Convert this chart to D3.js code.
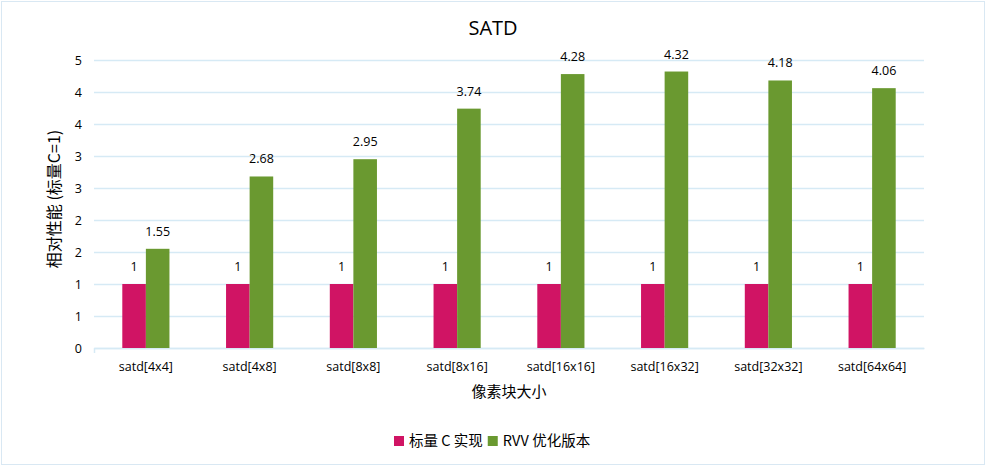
<!DOCTYPE html>
<html>
<head>
<meta charset="utf-8">
<script src="https://cdn.jsdelivr.net/npm/d3@7"></script>
<style>
  body { margin: 0; background: #fff; }
  svg text { font-family: "Open Sans", "Noto Sans CJK SC", sans-serif; fill: #000; }
  .cjk { font-family: "Noto Sans CJK SC", sans-serif; }
</style>
</head>
<body>
<svg id="chart" width="986" height="466"></svg>
<script>
// chart data
var categories = ["satd[4x4]", "satd[4x8]", "satd[8x8]", "satd[8x16]", "satd[16x16]", "satd[16x32]", "satd[32x32]", "satd[64x64]"];
var scalarC = [1, 1, 1, 1, 1, 1, 1, 1];
var rvvOpt = [1.55, 2.68, 2.95, 3.74, 4.28, 4.32, 4.18, 4.06];
var seriesNames = ["标量 C 实现", "RVV 优化版本"];
var seriesColors = ["#d01464", "#6a9930"];
var yTicks = [0, 0.5, 1, 1.5, 2, 2.5, 3, 3.5, 4, 4.5];

var svg = d3.select("#chart");
var margin = {left: 94, right: 62, top: 60, bottom: 118};
var W = 986, H = 466;

// outer border
svg.append("rect")
  .attr("x", 1.5).attr("y", 1.5)
  .attr("width", W - 3).attr("height", H - 3)
  .attr("fill", "none").attr("stroke", "#d9e8f3");

var x = d3.scaleBand()
  .domain(categories)
  .range([margin.left, W - margin.right])
  .paddingInner(0).paddingOuter(0);

var inner = d3.scaleBand()
  .domain([0, 1])
  .range([0, x.bandwidth()])
  .paddingInner(0).paddingOuter(1.2);

var y = d3.scaleLinear()
  .domain([0, 4.5])
  .range([H - margin.bottom, margin.top]);

// gridlines
svg.append("g")
  .selectAll("line")
  .data(yTicks)
  .join("line")
  .attr("x1", margin.left).attr("x2", W - margin.right)
  .attr("y1", function(d) { return Math.round(y(d)) + 0.5; })
  .attr("y2", function(d) { return Math.round(y(d)) + 0.5; })
  .attr("stroke", "#d6eaf5").attr("stroke-width", 1.5);

// y axis labels (rounded like the original)
var yAxis = d3.axisLeft(y)
  .tickValues(yTicks)
  .tickSize(0)
  .tickPadding(12)
  .tickFormat(function(d) { return Math.round(d + 0.001); });

svg.append("g")
  .attr("transform", "translate(" + margin.left + ",0)")
  .call(yAxis)
  .call(function(g) { g.select(".domain").remove(); })
  .selectAll("text")
  .style("font-size", "12.5px");

// x axis
var xAxis = d3.axisBottom(x).tickSize(0).tickPadding(14);
svg.append("g")
  .attr("transform", "translate(0," + (H - margin.bottom) + ")")
  .call(xAxis)
  .call(function(g) {
    g.select(".domain").attr("stroke", "#d6eaf5").attr("stroke-width", 1.5);
  })
  .selectAll("text")
  .style("font-size", "12.5px");

svg.append("line")
  .attr("x1", margin.left + 0.5).attr("x2", margin.left + 0.5)
  .attr("y1", H - margin.bottom).attr("y2", H - margin.bottom + 5)
  .attr("stroke", "#d6eaf5").attr("stroke-width", 1.5);

// bars
var groups = svg.append("g")
  .selectAll("g")
  .data(categories)
  .join("g")
  .attr("transform", function(d) { return "translate(" + x(d) + ",0)"; });

[scalarC, rvvOpt].forEach(function(series, s) {
  groups.append("rect")
    .attr("x", inner(s))
    .attr("width", inner.bandwidth())
    .attr("y", function(d, i) { return y(series[i]); })
    .attr("height", function(d, i) { return y(0) - y(series[i]); })
    .attr("fill", seriesColors[s]);

  groups.append("text")
    .attr("x", inner(s) + inner.bandwidth() / 2)
    .attr("y", function(d, i) { return y(series[i]) - 13; })
    .attr("text-anchor", "middle")
    .style("font-size", "12.5px")
    .text(function(d, i) { return series[i]; });
});

// title
svg.append("text")
  .attr("x", 493).attr("y", 35)
  .attr("text-anchor", "middle")
  .style("font-size", "20px")
  .text("SATD");

// axis titles
svg.append("text")
  .attr("class", "cjk")
  .attr("transform", "translate(60,199) rotate(-90)")
  .attr("text-anchor", "middle")
  .style("font-size", "16px")
  .text("相对性能 (标量C=1)");

svg.append("text")
  .attr("class", "cjk")
  .attr("x", (margin.left + W - margin.right) / 2).attr("y", 397)
  .attr("text-anchor", "middle")
  .style("font-size", "15px")
  .text("像素块大小");

// legend
var legend = svg.append("g").attr("transform", "translate(394,441)");
var lx = 0;
seriesNames.forEach(function(name, i) {
  legend.append("rect")
    .attr("x", lx).attr("y", -5)
    .attr("width", 10).attr("height", 10)
    .attr("fill", seriesColors[i]);
  var t = legend.append("text")
    .attr("class", "cjk")
    .attr("x", lx + 15).attr("y", 5)
    .style("font-size", "14.5px")
    .text(name);
  lx += 15 + t.node().getComputedTextLength() + 5;
});
</script>
</body>
</html>
